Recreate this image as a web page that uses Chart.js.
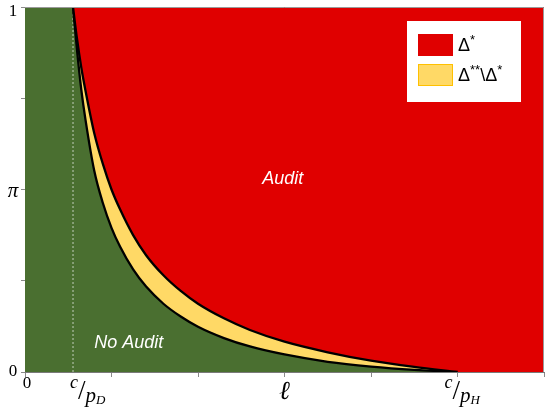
<!DOCTYPE html>
<html>
<head>
<meta charset="utf-8">
<script src="https://cdn.jsdelivr.net/npm/chart.js@4.4.1/dist/chart.umd.min.js"></script>
<style>
  html, body { margin: 0; padding: 0; background: #ffffff; }
  #c { display: block; }
</style>
</head>
<body>
<canvas id="c" width="550" height="410"></canvas>
<script>
// ---- data ----
const cOverPD = 0.555;          // c/p_D on the ℓ axis
const cOverPH = 5;              // c/p_H on the ℓ axis
const xMax = 6;
const ellGrid = [0.555, 0.6, 0.65, 0.7, 0.8, 0.9, 1.0, 1.1, 1.25, 1.4, 1.6, 1.8, 2.0, 2.3, 2.6, 3.0, 3.5, 4.0, 4.5, 5.0];
// upper boundary: Δ* (audit region above)
const deltaStar = [1.0, 0.915, 0.835, 0.77, 0.655, 0.57, 0.50, 0.445, 0.375, 0.32, 0.265, 0.222, 0.187, 0.147, 0.115, 0.083, 0.054, 0.031, 0.014, 0];
// lower boundary: Δ**
const deltaStarStar = [1.0, 0.885, 0.775, 0.69, 0.552, 0.463, 0.395, 0.343, 0.281, 0.234, 0.187, 0.152, 0.124, 0.093, 0.070, 0.048, 0.028, 0.015, 0.006, 0];
const xTickValues = [0, 1, 2, 3, 4, 5, 6];
const yTickValues = [0, 0.25, 0.5, 0.75, 1];
const xLabelValues = [0, cOverPD, 3, cOverPH];
const xLabelTexts = ['0', 'c/p_D', 'ℓ', 'c/p_H'];
const yLabelValues = [0, 0.5, 1];
const yLabelTexts = ['0', 'π', '1'];
const legendLabels = ['Δ*', 'Δ**\\Δ*'];
const regionLabels = ['Audit', 'No Audit'];

const GREEN = '#4a6f30', RED = '#e00000', YELLOW = '#ffd966';

const pts = (xs, ys) => xs.map((x, i) => ({ x: x, y: ys[i] }));

const datasets = [
  { // background: no-audit region
    data: [{ x: 0, y: 1 }, { x: xMax, y: 1 }],
    fill: 'origin', backgroundColor: GREEN, borderWidth: 0, pointRadius: 0, order: 10
  },
  { // red region right of c/p_H
    data: [{ x: cOverPH - 0.03, y: 0 }, { x: xMax, y: 0 }],
    fill: 'end', backgroundColor: RED, borderWidth: 0, pointRadius: 0, order: 9
  },
  { // dotted line at c/p_D
    data: [{ x: cOverPD, y: 0 }, { x: cOverPD, y: 1 }],
    fill: false, borderColor: 'rgba(205,215,200,0.9)', borderWidth: 1, borderDash: [2, 2], pointRadius: 0, order: 8
  },
  { // Δ** boundary with yellow band up to Δ*
    data: pts(ellGrid, deltaStarStar),
    fill: { target: 4 }, backgroundColor: YELLOW, borderColor: '#000', borderWidth: 2.3,
    pointRadius: 0, cubicInterpolationMode: 'monotone', order: 3
  },
  { // Δ* boundary, red above
    data: pts(ellGrid, deltaStar),
    fill: 'end', backgroundColor: RED, borderColor: '#000', borderWidth: 2.3,
    pointRadius: 0, cubicInterpolationMode: 'monotone', order: 2
  }
];

function drawParts(ctx, parts, x, y) {
  let cx = x;
  parts.forEach(p => {
    ctx.font = p.font;
    ctx.fillText(p.t, cx + (p.dx || 0), y + (p.dy || 0));
    cx += ctx.measureText(p.t).width + (p.dx || 0);
  });
}

const overlay = {
  id: 'overlay',
  afterDatasetsDraw(chart) {
    const ctx = chart.ctx, a = chart.chartArea;
    ctx.save();
    ctx.strokeStyle = '#9a9a9a';
    ctx.lineWidth = 1;
    ctx.beginPath();
    ctx.moveTo(a.left, a.top + 0.5);
    ctx.lineTo(a.right - 0.5, a.top + 0.5);
    ctx.lineTo(a.right - 0.5, a.bottom);
    ctx.stroke();
    ctx.restore();
  },
  afterDraw(chart) {
    const ctx = chart.ctx, xs = chart.scales.x, ys = chart.scales.y;
    ctx.save();
    ctx.fillStyle = '#000';
    ctx.textBaseline = 'middle';
    // y labels
    ctx.textAlign = 'center';
    yLabelValues.forEach((v, i) => {
      const t = yLabelTexts[i];
      let py = ys.getPixelForValue(v);
      if (v === 1) py += 5;
      ctx.font = (t === 'π' ? 'italic 21px "Liberation Serif"' : '17px "Liberation Serif"');
      ctx.fillText(t, 13, py + (t === 'π' ? 2 : 0));
    });
    // x labels
    xLabelValues.forEach((v, i) => {
      const t = xLabelTexts[i];
      const px = xs.getPixelForValue(v);
      if (t.indexOf('/') >= 0) {
        const num = t.split('/')[0];
        const den = t.split('/')[1].split('_');
        const off = (v === cOverPH) ? -13 : -3;
        ctx.textAlign = 'left';
        drawParts(ctx, [
          { t: num, font: 'italic 18px "Liberation Serif"', dy: -10 },
          { t: '/', font: '27px "Liberation Serif"', dx: 0, dy: -1 },
          { t: den[0], font: 'italic 21px "Liberation Serif"', dx: 0, dy: 3 },
          { t: den[1], font: 'italic 13px "Liberation Serif"', dx: 0, dy: 8 }
        ], px + off, 393);
      } else if (t === 'ℓ') {
        ctx.textAlign = 'center';
        ctx.font = 'italic 26px "DejaVu Serif"';
        ctx.fillText(t, px, 392);
      } else {
        ctx.textAlign = 'center';
        ctx.font = '17px "Liberation Serif"';
        ctx.fillText(t, px + 2, 384);
      }
    });
    // region labels
    ctx.fillStyle = '#ffffff';
    ctx.textAlign = 'center';
    ctx.font = 'italic 18px "Liberation Sans"';
    ctx.fillText(regionLabels[0], xs.getPixelForValue(2.98), ys.getPixelForValue(0.529));
    ctx.fillText(regionLabels[1], xs.getPixelForValue(1.2), ys.getPixelForValue(0.08));
    // legend box
    ctx.fillStyle = '#ffffff';
    ctx.fillRect(407, 21, 114, 81);
    ctx.fillStyle = RED;
    ctx.fillRect(418, 34, 35, 22);
    ctx.fillStyle = YELLOW;
    ctx.fillRect(418, 64, 35, 22);
    ctx.strokeStyle = '#ffc000';
    ctx.lineWidth = 1;
    ctx.strokeRect(418.5, 64.5, 34, 21);
    ctx.fillStyle = '#000';
    ctx.textAlign = 'left';
    legendLabels.forEach((lab, i) => {
      const parts = [];
      let k = 0;
      while (k < lab.length) {
        if (lab[k] === '*') {
          let s = '';
          while (k < lab.length && lab[k] === '*') { s += '*'; k++; }
          parts.push({ t: s, font: '13px "Liberation Sans"', dy: -6 });
        } else {
          let s = '';
          while (k < lab.length && lab[k] !== '*') { s += lab[k]; k++; }
          parts.push({ t: s, font: '18px "Liberation Sans"', dy: 0 });
        }
      }
      drawParts(ctx, parts, 458, 46 + i * 30);
    });
    ctx.restore();
  }
};

new Chart(document.getElementById('c'), {
  type: 'line',
  data: { datasets: datasets },
  options: {
    responsive: false,
    animation: false,
    events: [],
    layout: { padding: { top: 7, right: 6, left: 0, bottom: 0 } },
    plugins: { legend: { display: false }, tooltip: { enabled: false } },
    scales: {
      x: {
        type: 'linear', min: 0, max: xMax,
        afterBuildTicks: s => { s.ticks = xTickValues.map(v => ({ value: v })); },
        afterFit: s => { s.height = 38; },
        grid: { drawOnChartArea: false, drawTicks: true, tickLength: 5, color: '#8a8a8a' },
        border: { display: true, color: '#7a7a7a', width: 1 },
        ticks: { display: false }
      },
      y: {
        type: 'linear', min: 0, max: 1,
        afterBuildTicks: s => { s.ticks = yTickValues.map(v => ({ value: v })); },
        afterFit: s => { s.width = 25; },
        grid: { drawOnChartArea: false, drawTicks: true, tickLength: 4, color: '#8a8a8a' },
        border: { display: true, color: '#7a7a7a', width: 1 },
        ticks: { display: false }
      }
    }
  },
  plugins: [overlay]
});
</script>
</body>
</html>
